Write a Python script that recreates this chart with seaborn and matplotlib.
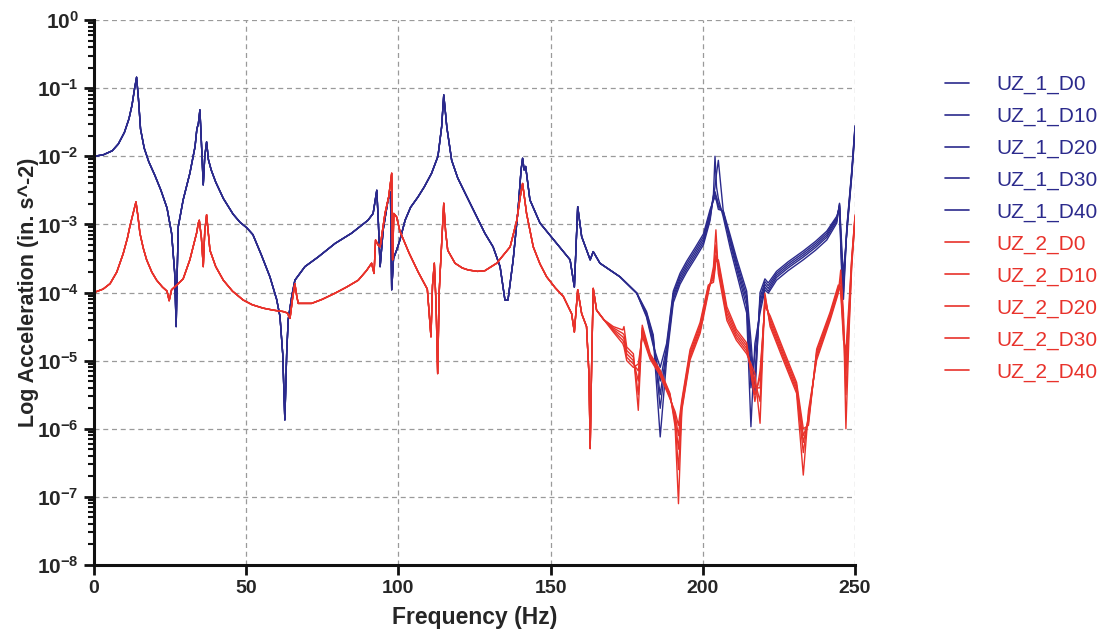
import numpy as np
import pandas as pd
import matplotlib
matplotlib.use("Agg")
import matplotlib.pyplot as plt
import seaborn as sns
from matplotlib.ticker import LogLocator, NullFormatter

# ---------------- data (log10 of acceleration) ----------------
# UZ_1 (blue) : shared part 0 - 180 Hz
freq1_head = [0, 3, 6, 8, 10, 11.5, 12.5, 13.3, 14.0, 14.6, 15.3, 16.5, 18, 20, 22, 24, 25.5, 26.5,
              27.0, 27.4, 27.7, 29.3, 31.5, 33.2, 33.8, 34.3, 34.8, 35.2, 35.9, 36.4, 37.0, 37.6,
              38.5, 40.0, 42.5, 45.7, 48.0, 50.2, 52.2, 55.0, 57.8, 60.0, 61.1, 62.0, 62.7, 63.3,
              63.8, 65.0, 66.0, 69.3, 73.6, 79.2, 84.6, 90.0, 91.7, 92.9, 93.4, 94.0, 95.0, 96.6,
              97.4, 97.8, 98.4, 99.4, 100.5, 102.2, 104.0, 106.4, 108.5, 110.9, 113.0, 114.2, 114.9,
              115.9, 117.5, 119.5, 121.9, 125.0, 128.4, 131.1, 133.4, 135.0, 136.0, 137.7, 139.3,
              140.3, 140.8, 141.3, 141.8, 143.2, 146.5, 152.0, 156.4, 157.8, 158.9, 160.2, 163.0,
              164.0, 166.2, 172.8, 178.3]
uz1_head = [-2.00, -1.98, -1.92, -1.82, -1.65, -1.45, -1.25, -1.02, -0.84, -1.15, -1.60, -1.88, -2.08,
            -2.28, -2.50, -2.76, -3.13, -3.70, -4.50, -3.60, -3.03, -2.64, -2.25, -1.86, -1.60, -1.52,
            -1.32, -1.70, -2.42, -2.00, -1.79, -2.05, -2.20, -2.38, -2.62, -2.85, -2.97, -3.05, -3.15,
            -3.45, -3.77, -4.10, -4.35, -4.90, -5.87, -4.90, -4.40, -4.05, -3.82, -3.62, -3.48, -3.28,
            -3.13, -2.94, -2.84, -2.50, -2.95, -3.62, -3.08, -2.64, -2.52, -3.96, -3.50, -3.38, -3.23,
            -2.94, -2.75, -2.60, -2.45, -2.25, -2.00, -1.57, -1.10, -1.57, -2.06, -2.32, -2.54, -2.82,
            -3.13, -3.33, -3.62, -4.11, -4.11, -3.52, -2.79, -2.20, -2.03, -2.20, -2.15, -2.64, -2.98,
            -3.28, -3.52, -3.92, -2.74, -3.18, -3.52, -3.40, -3.57, -3.77, -4.01]

# UZ_1 (blue) : damage-dependent part 181 - 250 Hz
freq1_tail = [181.5, 183.7, 186.0, 188.1, 190.3, 192.5, 194.7, 197.5, 200.2, 202.4, 203.5, 204.0,
              204.5, 205.1, 206.7, 209.0, 211.1, 214.4, 215.8, 217.1, 218.8, 220.4, 221.5, 224.2,
              228.0, 233.0, 237.0, 240.7, 244.0, 244.9, 245.6, 246.2, 247.3, 248.9, 250.0]
uz1_d0_tail = [-4.30, -4.65, -6.12, -4.99, -4.15, -3.88, -3.70, -3.50, -3.30, -2.94, -2.55, -2.00,
               -2.45, -2.62, -2.89, -3.35, -3.72, -4.30, -5.97, -4.75, -4.30, -3.96, -4.01, -3.82,
               -3.68, -3.52, -3.38, -3.23, -2.98, -2.69, -3.43, -3.72, -3.13, -2.30, -1.62]
uz1_d10_tail = [-4.28, -4.62, -5.70, -4.90, -4.10, -3.84, -3.66, -3.46, -3.26, -2.90, -2.60, -2.45,
                -2.25, -2.06, -2.80, -3.28, -3.65, -4.20, -5.40, -4.90, -4.22, -3.92, -3.98, -3.78,
                -3.64, -3.48, -3.34, -3.19, -2.95, -2.70, -3.30, -3.80, -3.10, -2.28, -1.60]
uz1_d20_tail = [-4.32, -4.70, -5.50, -4.85, -4.06, -3.80, -3.62, -3.42, -3.22, -2.86, -2.58, -2.52,
                -2.60, -2.70, -2.84, -3.24, -3.60, -4.12, -5.10, -5.20, -4.15, -3.88, -3.94, -3.75,
                -3.61, -3.45, -3.31, -3.16, -2.92, -2.72, -3.50, -3.90, -3.08, -2.26, -1.58]
uz1_d30_tail = [-4.34, -4.74, -5.30, -4.80, -4.02, -3.76, -3.58, -3.38, -3.18, -2.82, -2.62, -2.56,
                -2.62, -2.74, -2.82, -3.20, -3.55, -4.05, -4.90, -5.40, -4.08, -3.84, -3.90, -3.72,
                -3.58, -3.42, -3.28, -3.13, -2.90, -2.74, -3.60, -4.00, -3.06, -2.24, -1.56]
uz1_d40_tail = [-4.36, -4.78, -5.10, -4.75, -3.98, -3.72, -3.54, -3.34, -3.14, -2.78, -2.65, -2.60,
                -2.66, -2.78, -2.80, -3.16, -3.50, -3.98, -4.70, -5.50, -4.00, -3.80, -3.86, -3.69,
                -3.55, -3.39, -3.25, -3.10, -2.88, -2.76, -3.70, -4.10, -3.04, -2.22, -1.55]

# UZ_2 (red) : shared part 0 - 168 Hz
freq2_head = [0, 3, 5.3, 7.5, 9.6, 11.0, 11.8, 12.8, 13.8, 14.5, 15.1, 16.2, 17.3, 19.0, 20.6, 22.5,
              24.0, 24.7, 25.5, 27.2, 29.3, 31.5, 33.0, 33.7, 34.3, 34.6, 35.3, 35.9, 36.4, 37.0,
              37.5, 38.1, 40.0, 42.5, 45.5, 49.0, 52.0, 55.6, 59.0, 62.2, 63.5, 64.4, 65.2, 66.0,
              66.6, 67.1, 71.5, 75.0, 79.2, 83.0, 86.8, 89.5, 91.2, 92.0, 92.5, 93.3, 94.0, 95.6,
              96.8, 97.8, 98.1, 98.5, 99.4, 100.5, 103.5, 106.5, 109.5, 110.7, 111.2, 111.8, 112.4,
              112.9, 113.4, 113.7, 114.3, 114.9, 115.5, 116.2, 118.6, 121.0, 123.0, 126.0, 128.4,
              132.3, 134.5, 136.7, 138.9, 140.0, 140.8, 142.1, 144.3, 146.5, 148.7, 151.5, 154.2,
              156.9, 157.8, 158.9, 160.2, 161.8, 162.6, 163.0, 163.5, 164.0, 165.1, 167.5]
uz2_head = [-4.00, -3.95, -3.87, -3.70, -3.43, -3.20, -3.03, -2.85, -2.67, -2.90, -3.13, -3.35, -3.52,
            -3.70, -3.82, -3.92, -3.98, -4.12, -3.96, -3.89, -3.80, -3.52, -3.25, -3.13, -2.98, -2.94,
            -3.20, -3.62, -3.10, -2.86, -3.10, -3.38, -3.62, -3.82, -3.98, -4.11, -4.18, -4.23, -4.26,
            -4.28, -4.30, -4.38, -4.10, -3.87, -4.05, -4.16, -4.16, -4.10, -4.01, -3.92, -3.82, -3.68,
            -3.57, -3.72, -3.23, -3.30, -3.33, -2.84, -2.60, -2.25, -3.52, -2.84, -2.89, -3.10, -3.42,
            -3.70, -3.95, -4.65, -3.90, -3.57, -4.20, -5.19, -4.00, -3.72, -3.20, -2.69, -3.10, -3.38,
            -3.57, -3.64, -3.67, -3.69, -3.68, -3.57, -3.45, -3.33, -2.94, -2.60, -2.40, -2.84, -3.33,
            -3.58, -3.77, -3.93, -4.06, -4.31, -4.58, -3.96, -4.31, -4.50, -5.20, -6.29, -5.00, -3.94,
            -4.26, -4.40]

# UZ_2 (red) : damage-dependent part 170 - 250 Hz
freq2_tail = [170.6, 173.7, 174.1, 175.0, 177.2, 178.8, 180.1, 182.7, 186.0, 189.2, 190.9, 192.0,
              193.1, 195.8, 199.1, 201.8, 203.5, 204.3, 205.1, 207.9, 211.0, 214.4, 217.1, 218.8,
              220.4, 222.1, 226.4, 230.8, 233.0, 234.7, 237.4, 241.8, 244.5, 245.3, 246.2, 247.0,
              248.1, 248.9, 250.0]
uz2_d0_tail = [-4.50, -4.55, -4.50, -4.80, -4.90, -5.73, -4.48, -4.90, -5.14, -5.48, -5.97, -7.10,
               -5.73, -4.99, -4.60, -4.01, -3.62, -3.08, -3.72, -4.41, -4.70, -4.90, -5.19, -5.92,
               -4.01, -4.50, -4.99, -5.48, -6.68, -5.73, -4.99, -4.41, -4.01, -3.67, -4.31, -6.00,
               -4.50, -3.62, -2.94]
uz2_d10_tail = [-4.52, -4.60, -4.62, -4.85, -4.95, -5.50, -4.52, -4.92, -5.16, -5.50, -5.90, -6.60,
                -5.70, -4.95, -4.56, -3.98, -3.70, -3.30, -3.66, -4.36, -4.66, -4.86, -5.30, -5.60,
                -4.05, -4.46, -4.95, -5.44, -6.35, -5.80, -4.95, -4.38, -3.98, -3.80, -4.40, -5.50,
                -4.40, -3.58, -2.92]
uz2_d20_tail = [-4.54, -4.65, -4.68, -4.90, -5.00, -5.30, -4.56, -4.94, -5.18, -5.52, -5.85, -6.30,
                -5.66, -4.92, -4.52, -3.95, -3.75, -3.45, -3.60, -4.31, -4.62, -4.82, -5.40, -5.40,
                -4.10, -4.42, -4.91, -5.40, -6.20, -5.85, -4.91, -4.35, -3.95, -3.90, -4.50, -5.20,
                -4.30, -3.55, -2.90]
uz2_d30_tail = [-4.56, -4.70, -4.74, -4.95, -5.05, -5.15, -4.60, -4.96, -5.20, -5.54, -5.80, -6.10,
                -5.62, -4.88, -4.48, -3.92, -3.80, -3.50, -3.56, -4.26, -4.58, -4.78, -5.50, -5.25,
                -4.15, -4.38, -4.87, -5.36, -6.10, -5.90, -4.87, -4.32, -3.92, -3.95, -4.60, -5.00,
                -4.20, -3.52, -2.88]
uz2_d40_tail = [-4.58, -4.75, -4.80, -5.00, -5.10, -5.05, -4.64, -4.98, -5.22, -5.56, -5.75, -5.95,
                -5.58, -4.84, -4.44, -3.89, -3.85, -3.55, -3.52, -4.21, -4.54, -4.74, -5.60, -5.15,
                -4.20, -4.34, -4.83, -5.32, -6.00, -5.95, -4.83, -4.29, -3.89, -4.00, -4.70, -4.85,
                -4.10, -3.50, -2.86]

series_names = ["UZ_1_D0", "UZ_1_D10", "UZ_1_D20", "UZ_1_D30", "UZ_1_D40",
                "UZ_2_D0", "UZ_2_D10", "UZ_2_D20", "UZ_2_D30", "UZ_2_D40"]
y_tick_exponents = [0, -1, -2, -3, -4, -5, -6, -7, -8]
x_ticks = [0, 50, 100, 150, 200, 250]

# ---------------- build long table ----------------
tails1 = [uz1_d0_tail, uz1_d10_tail, uz1_d20_tail, uz1_d30_tail, uz1_d40_tail]
tails2 = [uz2_d0_tail, uz2_d10_tail, uz2_d20_tail, uz2_d30_tail, uz2_d40_tail]
frames = []
for name, tail in zip(series_names[:5], tails1):
    f = freq1_head + freq1_tail
    v = uz1_head + tail
    frames.append(pd.DataFrame({"freq": f, "acc": 10.0 ** np.array(v), "series": name}))
for name, tail in zip(series_names[5:], tails2):
    f = freq2_head + freq2_tail
    v = uz2_head + tail
    frames.append(pd.DataFrame({"freq": f, "acc": 10.0 ** np.array(v), "series": name}))
df = pd.concat(frames, ignore_index=True)

blue = "#2B2A8C"
red = "#E8322B"
palette = {n: (blue if n.startswith("UZ_1") else red) for n in series_names}

# ---------------- plot ----------------
sns.set_style("white")
plt.rcParams["font.family"] = ["Liberation Sans", "DejaVu Sans"]
plt.rcParams["mathtext.fontset"] = "custom"
plt.rcParams["mathtext.rm"] = "Liberation Sans"
plt.rcParams["mathtext.bf"] = "Liberation Sans:bold"

fig = plt.figure(figsize=(11.08, 6.31), dpi=100)
ax = fig.add_axes([0.0848, 0.1046, 0.6869, 0.8637])

sns.lineplot(data=df, x="freq", y="acc", hue="series", hue_order=series_names,
             palette=palette, estimator=None, sort=False, linewidth=1.0, ax=ax, legend=True)

ax.set_yscale("log")
ax.set_xlim(0, 250)
ax.set_ylim(1e-8, 1)

ax.set_xticks(x_ticks)
ax.set_xticklabels([str(t) for t in x_ticks], fontsize=14, fontweight="bold")
ax.set_yticks([10.0 ** e for e in y_tick_exponents])
ax.set_yticklabels([r"$\mathbf{10^{%d}}$" % e for e in y_tick_exponents], fontsize=15)
ax.yaxis.set_minor_locator(LogLocator(base=10, subs=np.arange(2, 10), numticks=100))
ax.yaxis.set_minor_formatter(NullFormatter())

ax.grid(True, which="major", linestyle=(0, (4, 3)), color="#9a9a9a", linewidth=0.9)
ax.set_axisbelow(True)

for side in ["top", "right"]:
    ax.spines[side].set_visible(False)
for side in ["left", "bottom"]:
    ax.spines[side].set_linewidth(2.2)
    ax.spines[side].set_color("#111111")
ax.tick_params(axis="both", which="major", direction="out", length=7, width=2, color="#111111",
               pad=4, left=True, bottom=True)
ax.tick_params(axis="y", which="minor", direction="out", length=4, width=1.5, color="#111111", left=True)

ax.set_xlabel("Frequency (Hz)", fontsize=16.5, fontweight="bold", labelpad=6)
ax.set_ylabel("Log Acceleration (in. s^-2)", fontsize=15.5, fontweight="bold", labelpad=-2)

handles, labels = ax.get_legend_handles_labels()
ax.get_legend().remove()
leg = fig.legend(handles, labels, loc="upper left", bbox_to_anchor=(0.836, 0.911),
                 frameon=False, fontsize=15, handlelength=1.15, handletextpad=1.3,
                 labelspacing=0.61, labelcolor="linecolor")
for h in leg.get_lines():
    h.set_linewidth(1.2)

fig.savefig("out.png", dpi=100, facecolor="white")
